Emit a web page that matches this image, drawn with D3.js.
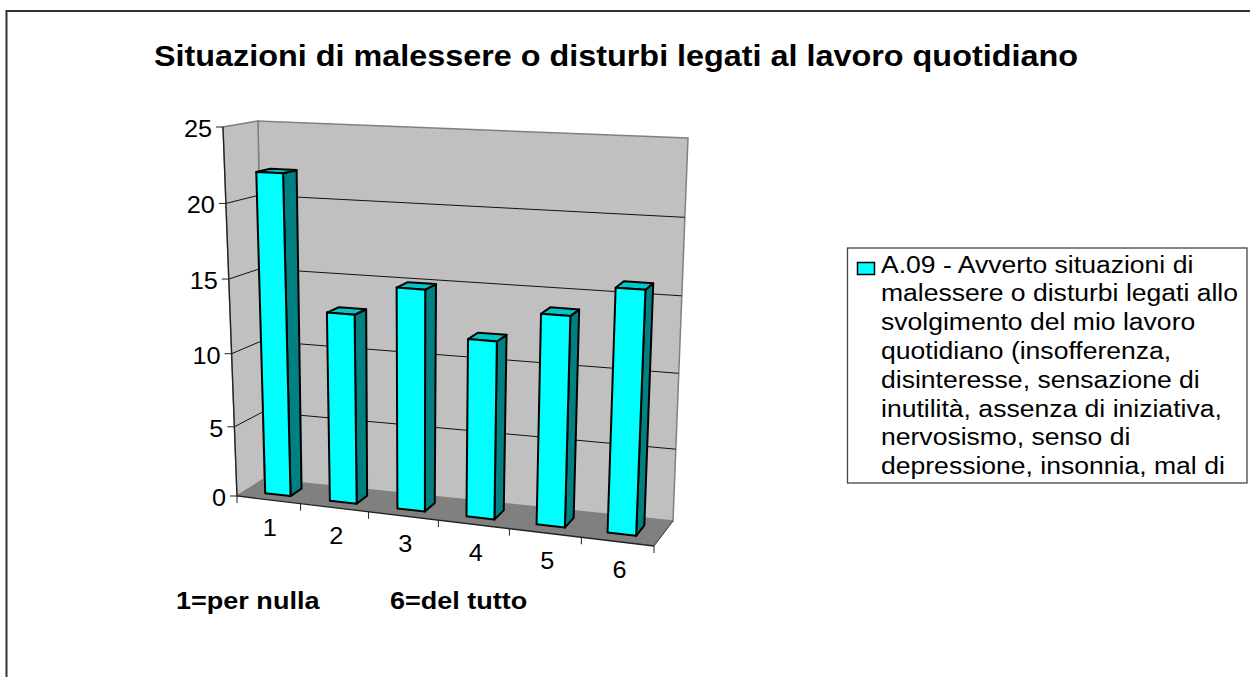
<!DOCTYPE html>
<html>
<head>
<meta charset="utf-8">
<script src="https://cdn.jsdelivr.net/npm/d3@7"></script>
<style>
body { margin: 0; background: #fff; }
text { font-family: "Liberation Sans", Arial, sans-serif; fill: #000; }
</style>
</head>
<body>
<svg width="1250" height="677"></svg>
<script>
let titleText = "Situazioni di malessere o disturbi legati al lavoro quotidiano";
let categories = ["1", "2", "3", "4", "5", "6"];
let values = [22, 13, 15, 12, 14, 16];
let yTicks = [0, 5, 10, 15, 20, 25];
let legendLines = ["A.09 - Avverto situazioni di", "malessere o disturbi legati allo",
  "svolgimento del mio lavoro", "quotidiano (insofferenza,", "disinteresse, sensazione di",
  "inutilità, assenza di iniziativa,", "nervosismo, senso di", "depressione, insonnia, mal di"];
let footNotes = ["1=per nulla", "6=del tutto"];

let svg = d3.select("svg");

// the original picture is stretched sideways, so text gets a scale too
function place(sel, x, y, sx) {
  return sel.attr("transform", "translate(" + x + "," + y + ") scale(" + sx + ",1)");
}

// outer frame of the chart area
svg.append("path")
  .attr("d", "M6.5,677V11H1250")
  .attr("fill", "none").attr("stroke", "#333").attr("stroke-width", 2);

place(svg.append("text"), 154, 66, 1.079)
  .style("font-size", "30px").style("font-weight", "bold")
  .text(titleText);

// the 8 corners of the 3d box as seen in the picture
// naming: f/b = front/back, l/r = left/right, 0/1 = floor/top
let c = {
  fl0: [237, 496], fr0: [654, 546], bl0: [264, 479], br0: [673, 521],
  fl1: [223, 127], fr1: [671, 149], bl1: [258, 121], br1: [688, 138]
};

// perspective makes steps grow a bit, pow scales get close enough
let yScale = d3.scalePow().exponent(1.04).domain([0, 25]).range([0, 1]);
let uScale = d3.scalePow().exponent(1.05).domain([0, 1]).range([0, 1]);
let barU = d3.scalePow().exponent(1.05).domain([0, 1]).range([0.006, 0.995]);
let xBand = d3.scaleBand().domain(categories).range([0, 1]).paddingInner(0.6).paddingOuter(0.3);
let depth = d3.scaleLinear().domain([0, 1]).range([0.3, 0.72]);

function lerp(a, b, t) { return [a[0] + (b[0] - a[0]) * t, a[1] + (b[1] - a[1]) * t]; }

// u: left to right, d: front to back, h: floor to top (all 0..1)
function project(u, d, h) {
  let front = lerp(lerp(c.fl0, c.fr0, u), lerp(c.fl1, c.fr1, u), h);
  let back = lerp(lerp(c.bl0, c.br0, u), lerp(c.bl1, c.br1, u), h);
  return lerp(front, back, d);
}
let poly = pts => "M" + pts.map(p => p.join(",")).join("L") + "Z";

let g = svg.append("g");

// back wall, side wall, floor
g.append("path").attr("d", poly([c.bl0, c.br0, c.br1, c.bl1]))
  .attr("fill", "#c0c0c0").attr("stroke", "#808080").attr("stroke-width", 1.5);
g.append("path").attr("d", poly([c.fl0, c.bl0, c.bl1, c.fl1]))
  .attr("fill", "#c0c0c0").attr("stroke", "#808080").attr("stroke-width", 1.5);
g.append("path").attr("d", poly([c.fl0, c.fr0, c.br0, c.bl0]))
  .attr("fill", "#808080").attr("stroke", "none");

// gridlines
let line = d3.line();
yTicks.filter(t => t > 0 && t < 25).forEach(t => {
  let h = yScale(t);
  g.append("path").attr("fill", "none").attr("stroke", "#111").attr("stroke-width", 1)
    .attr("d", line([project(0, 0, h), project(0, 1, h), project(1, 1, h)]));
});

// front edges of the axes
g.append("path").attr("fill", "none").attr("stroke", "#222").attr("stroke-width", 1.3)
  .attr("d", line([c.fl1, c.fl0, c.fr0]));
g.append("path").attr("fill", "none").attr("stroke", "#333").attr("stroke-width", 1)
  .attr("d", line([c.fr0, c.br0]));

// y ticks and labels
yTicks.forEach(t => {
  let p = project(0, 0, yScale(t));
  g.append("path").attr("stroke", "#222").attr("stroke-width", 1)
    .attr("d", line([[p[0] - 7, p[1]], p]));
  place(g.append("text"), p[0] - 11, p[1] + 10, 1.1)
    .attr("text-anchor", "end").style("font-size", "23px").text(t);
});

// x ticks
d3.range(0, 7).forEach(i => {
  let p = project(uScale(i / 6), 0, 0);
  g.append("path").attr("stroke", "#222").attr("stroke-width", 1)
    .attr("d", line([p, [p[0], p[1] + 7]]));
});
categories.forEach((cat, i) => {
  let p = project(uScale((i + 0.5) / 6), 0, 0);
  place(g.append("text"), p[0] + 2, p[1] + 36.5, 1.1)
    .attr("text-anchor", "middle").style("font-size", "23px").text(cat);
});

// bars
categories.forEach((cat, i) => {
  let u0 = barU(xBand(cat)), u1 = barU(xBand(cat) + xBand.bandwidth());
  let d0 = depth(0), d1 = depth(1), h = yScale(values[i]);
  let bar = g.append("g").attr("stroke", "#000").attr("stroke-width", 2).attr("stroke-linejoin", "round");
  bar.append("path").attr("fill", "#008080")
    .attr("d", poly([project(u1, d0, 0), project(u1, d1, 0), project(u1, d1, h), project(u1, d0, h)]));
  bar.append("path").attr("fill", "#00c8c8")
    .attr("d", poly([project(u0, d0, h), project(u1, d0, h), project(u1, d1, h), project(u0, d1, h)]));
  bar.append("path").attr("fill", "#00ffff")
    .attr("d", poly([project(u0, d0, 0), project(u1, d0, 0), project(u1, d0, h), project(u0, d0, h)]));
});

// legend
let legend = svg.append("g");
legend.append("rect").attr("x", 847.5).attr("y", 248).attr("width", 399.5).attr("height", 235)
  .attr("fill", "#fff").attr("stroke", "#444").attr("stroke-width", 1.3);
legend.append("rect").attr("x", 857.5).attr("y", 262.5).attr("width", 17).attr("height", 12)
  .attr("fill", "#00ffff").attr("stroke", "#000").attr("stroke-width", 1.5);
legendLines.forEach((d, i) => {
  place(legend.append("text"), 881, 272.5 + i * 28.8, 1.13)
    .style("font-size", "23.5px")
    .text(d);
});

footNotes.forEach((d, i) => {
  place(svg.append("text"), [176, 390][i], 608.5, 1.127)
    .style("font-size", "24px").style("font-weight", "bold")
    .text(d);
});
</script>
</body>
</html>
